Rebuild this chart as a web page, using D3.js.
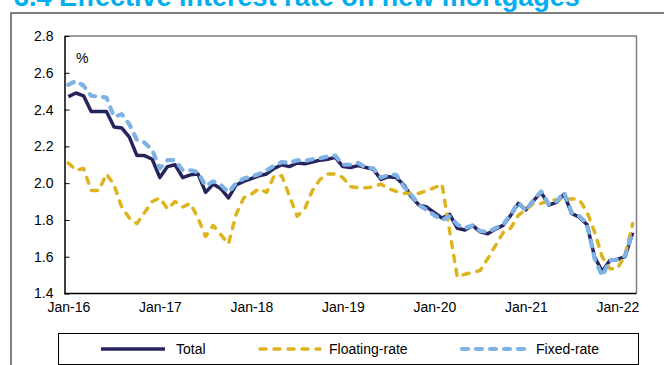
<!DOCTYPE html>
<html>
<head>
<meta charset="utf-8">
<script src="https://cdn.jsdelivr.net/npm/d3@7"></script>
<style>
  html, body { margin: 0; padding: 0; background: #fff; }
  svg { display: block; font-family: "Liberation Sans", Arial, sans-serif; }
</style>
</head>
<body>
<svg id="chart" width="664" height="365"></svg>
<script>
// Monthly categories, Jan-2016 to Mar-2022
const months = d3.timeMonth.range(new Date(2016, 0, 1), new Date(2022, 3, 1));
const tickLabels = ["Jan-16", "Jan-17", "Jan-18", "Jan-19", "Jan-20", "Jan-21", "Jan-22"];
const yTicks = [1.4, 1.6, 1.8, 2.0, 2.2, 2.4, 2.6, 2.8];

// Effective interest rate on new mortgages, %
const total = [
  2.47, 2.49, 2.475, 2.39, 2.39, 2.39, 2.305, 2.30, 2.25, 2.15, 2.15, 2.13,
  2.03, 2.09, 2.10, 2.03, 2.045, 2.05, 1.95, 1.995, 1.97, 1.92, 1.99, 2.01,
  2.025, 2.04, 2.05, 2.08, 2.10, 2.09, 2.11, 2.105, 2.115, 2.125, 2.13, 2.14,
  2.09, 2.085, 2.095, 2.085, 2.075, 2.02, 2.035, 2.03, 1.99, 1.925, 1.88, 1.87,
  1.84, 1.81, 1.83, 1.755, 1.745, 1.77, 1.735, 1.725, 1.75, 1.77, 1.825, 1.89,
  1.855, 1.905, 1.95, 1.88, 1.895, 1.94, 1.835, 1.815, 1.775, 1.60, 1.52, 1.58,
  1.585, 1.60, 1.73
];
const floating = [
  2.11, 2.07, 2.08, 1.96, 1.96, 2.05, 1.99, 1.87, 1.81, 1.78, 1.84, 1.90,
  1.92, 1.86, 1.90, 1.87, 1.89, 1.81, 1.71, 1.77, 1.72, 1.67, 1.83, 1.92,
  1.94, 1.97, 1.95, 2.04, 2.04, 1.93, 1.82, 1.86, 1.96, 2.02, 2.05, 2.05,
  2.03, 1.98, 1.975, 1.975, 1.98, 1.995, 1.97, 1.955, 1.945, 1.945, 1.945, 1.96,
  1.975, 1.995, 1.74, 1.49, 1.505, 1.515, 1.525, 1.59, 1.66, 1.73, 1.755, 1.825,
  1.855, 1.89, 1.89, 1.905, 1.91, 1.91, 1.915, 1.91, 1.845, 1.735, 1.60, 1.535,
  1.535, 1.61, 1.78
];
const fixed = [
  2.535, 2.555, 2.53, 2.475, 2.47, 2.465, 2.36, 2.375, 2.32, 2.235, 2.22, 2.18,
  2.08, 2.125, 2.125, 2.07, 2.07, 2.06, 1.985, 2.01, 1.99, 1.95, 2.0, 2.025,
  2.035, 2.05, 2.07, 2.095, 2.115, 2.11, 2.125, 2.12, 2.13, 2.135, 2.145, 2.15,
  2.10, 2.10, 2.11, 2.085, 2.08, 2.03, 2.045, 2.045, 1.98, 1.935, 1.88, 1.855,
  1.825, 1.80, 1.82, 1.775, 1.755, 1.77, 1.74, 1.735, 1.755, 1.775, 1.83, 1.895,
  1.85, 1.91, 1.955, 1.885, 1.90, 1.95, 1.84, 1.82, 1.78, 1.59, 1.495, 1.58,
  1.585, 1.605, 1.735
];

const fmt = d3.timeFormat("%b-%y");
const svg = d3.select("#chart");

// Title (sits above the panel frame)
svg.append("text")
  .attr("x", 14).attr("y", 6)
  .attr("fill", "#00AEEF")
  .attr("font-weight", "bold")
  .attr("font-size", 27)
  .text("3.4 Effective interest rate on new mortgages");

// Panel frame
svg.append("path")
  .attr("d", "M11,365 V13 H664")
  .attr("fill", "none")
  .attr("stroke", "#7f7f7f")
  .attr("stroke-width", 2);

const plot = { left: 64.5, right: 636.5, top: 36, bottom: 293.5 };

const x = d3.scalePoint()
  .domain(months.map(fmt))
  .range([plot.left, plot.right])
  .padding(0.5);

const y = d3.scaleLinear()
  .domain([1.4, 2.8])
  .range([plot.bottom, plot.top]);

// Plot area border (top/right light)
svg.append("path")
  .attr("d", `M${plot.left},${plot.top} H${plot.right} V${plot.bottom}`)
  .attr("fill", "none")
  .attr("stroke", "#808080")
  .attr("stroke-width", 1.5);

// Y axis
const yAxis = svg.append("g")
  .attr("transform", `translate(${plot.left},0)`)
  .call(d3.axisLeft(y).tickValues(yTicks).tickFormat(d3.format(".1f")).tickSizeInner(-5).tickSizeOuter(0).tickPadding(11));
yAxis.select(".domain").attr("stroke", "#000").attr("stroke-width", 1.5);
yAxis.selectAll(".tick line").attr("stroke", "#000");
yAxis.selectAll(".tick text").attr("font-size", 14).attr("fill", "#000")
  .attr("font-family", "Liberation Sans, Arial, sans-serif");

// X axis
const xAxis = svg.append("g")
  .attr("transform", `translate(0,${plot.bottom})`)
  .call(d3.axisBottom(x).tickValues(tickLabels).tickSize(0).tickPadding(9));
xAxis.select(".domain").attr("stroke", "#000").attr("stroke-width", 1.5)
  .attr("d", `M${plot.left},0H${plot.right}`);
xAxis.selectAll(".tick text").attr("font-size", 14).attr("fill", "#000")
  .attr("font-family", "Liberation Sans, Arial, sans-serif");

// Unit label
svg.append("text")
  .attr("x", 76).attr("y", 63)
  .attr("font-size", 14)
  .text("%");

const series = [
  { name: "Total", values: total, color: "#27235C", width: 3.5, dash: null },
  { name: "Floating-rate", values: floating, color: "#DDB420", width: 3.5, dash: "6,8" },
  { name: "Fixed-rate", values: fixed, color: "#7FB3E6", width: 4.2, dash: "6,8" }
];

const line = d3.line()
  .x((d, i) => x(fmt(months[i])))
  .y(d => y(d));

svg.append("g").selectAll("path")
  .data(series)
  .join("path")
  .attr("d", s => line(s.values))
  .attr("fill", "none")
  .attr("stroke", s => s.color)
  .attr("stroke-width", s => s.width)
  .attr("stroke-dasharray", s => s.dash)
  .attr("stroke-linecap", s => s.dash ? "round" : "butt")
  .attr("stroke-linejoin", "round");

// Legend
const legend = svg.append("g");
legend.append("rect")
  .attr("x", 58.5).attr("y", 333.5)
  .attr("width", 580).attr("height", 31)
  .attr("fill", "#fff")
  .attr("stroke", "#000")
  .attr("stroke-width", 1);

const legendItems = [
  { x0: 101, x1: 165, tx: 176 },
  { x0: 260, x1: 320, tx: 329 },
  { x0: 462, x1: 528, tx: 536 }
];
legendItems.forEach((p, k) => {
  const s = series[k];
  legend.append("line")
    .attr("x1", p.x0).attr("x2", p.x1)
    .attr("y1", 349).attr("y2", 349)
    .attr("stroke", s.color)
    .attr("stroke-width", s.width)
    .attr("stroke-dasharray", s.dash)
    .attr("stroke-linecap", s.dash ? "round" : "butt");
  legend.append("text")
    .attr("x", p.tx).attr("y", 354)
    .attr("font-size", 14)
    .text(s.name);
});
</script>
</body>
</html>
